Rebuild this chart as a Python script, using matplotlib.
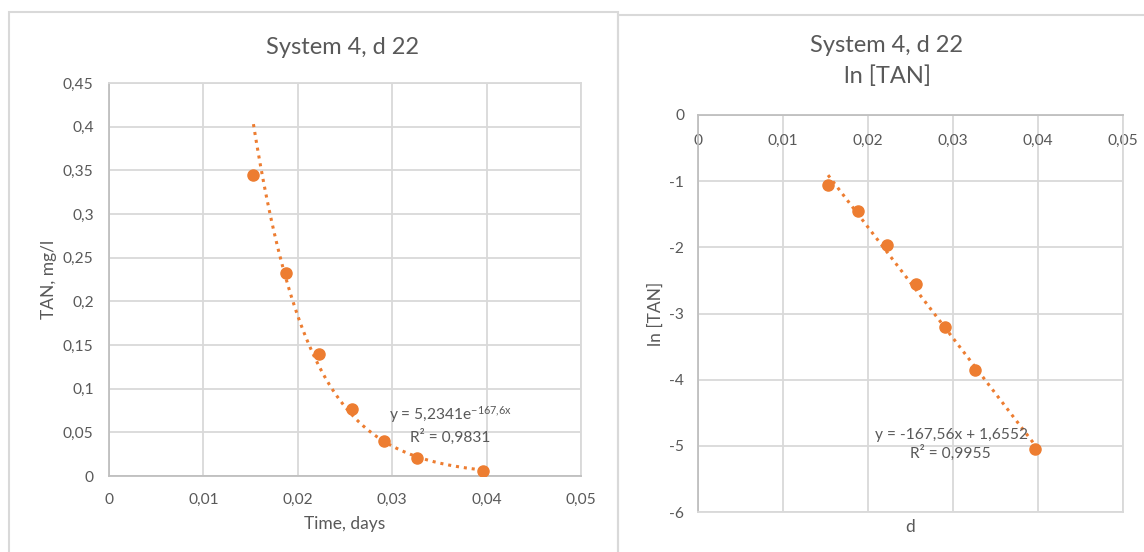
import matplotlib
matplotlib.use("Agg")
import matplotlib.pyplot as plt
from matplotlib.patches import Rectangle
import numpy as np

# values
days = [0.0153, 0.0188, 0.0222, 0.0257, 0.0291, 0.0326, 0.0396]
tan_mgl = [0.345, 0.233, 0.140, 0.077, 0.040, 0.021, 0.006]
ln_tan = [-1.06, -1.45, -1.96, -2.55, -3.20, -3.85, -5.05]

# trendline coefficients as printed on the charts
exp_a, exp_b = 5.2341, -167.6
lin_slope, lin_icpt = -167.56, 1.6552

x_ticks = [0, 0.01, 0.02, 0.03, 0.04, 0.05]
left_yticks = [0, 0.05, 0.1, 0.15, 0.2, 0.25, 0.3, 0.35, 0.4, 0.45]
right_yticks = [0, -1, -2, -3, -4, -5, -6]

orange = "#ED7D31"
txt = "#595959"
grid = "#d9d9d9"
axisc = "#bfbfbf"

plt.rcParams["font.family"] = ["Lato", "DejaVu Sans"]
plt.rcParams["mathtext.fontset"] = "custom"
plt.rcParams["mathtext.rm"] = "Lato"
plt.rcParams["mathtext.it"] = "Lato"

W, H = 1144, 552
fig = plt.figure(figsize=(W / 100, H / 100), dpi=100)


def fx(px):
    return px / W


def fy(py):
    return 1 - py / H


def comma(v):
    return ("%g" % v).replace(".", ",")


TICK = 11.2
LAB = 12.5
TITLE = 17
ANN = 11.2

# panel frames
fig.patches.append(Rectangle((fx(9), fy(560)), fx(618 - 9), fy(12) - fy(560),
                             transform=fig.transFigure, fill=False,
                             edgecolor=grid, linewidth=1.5))
fig.patches.append(Rectangle((fx(618), fy(560)), fx(1160 - 618), fy(15) - fy(560),
                             transform=fig.transFigure, fill=False,
                             edgecolor=grid, linewidth=1.5))

# ---- left chart: TAN vs time
ax = fig.add_axes([fx(109), fy(476), fx(581 - 109), fy(83) - fy(476)])
ax.set_xlim(0, 0.05)
ax.set_ylim(0, 0.45)
ax.set_xticks(x_ticks)
ax.set_yticks(left_yticks)
ax.set_xticklabels([comma(v) for v in x_ticks])
ax.set_yticklabels([comma(v) for v in left_yticks])
ax.grid(True, color=grid, linewidth=1.3)
ax.set_axisbelow(True)
for s in ax.spines.values():
    s.set_color(grid)
    s.set_linewidth(1.3)
ax.spines["left"].set_color(axisc)
ax.spines["bottom"].set_color(axisc)
ax.tick_params(length=0, colors=txt, labelsize=TICK)
ax.tick_params(axis="x", pad=12)
ax.tick_params(axis="y", pad=11)

xs = np.linspace(min(days), max(days), 200)
ax.plot(xs, exp_a * np.exp(exp_b * xs), color=orange, linestyle=(0, (1, 1.6)),
        linewidth=2.2, zorder=2)
ax.plot(days, tan_mgl, "o", color=orange, markersize=8, zorder=3)

ax.set_xlabel("Time, days", color=txt, fontsize=LAB, labelpad=7)
ax.set_ylabel("TAN, mg/l", color=txt, fontsize=LAB, labelpad=4)
fig.text(fx(343), fy(47), "System 4, d 22", ha="center", va="center",
         color=txt, fontsize=TITLE)

ax.text(0.0362, 0.0698, r"y = 5,2341e$^{\mathregular{-167{,}6x}}$", ha="center",
        va="center", color=txt, fontsize=ANN)
ax.text(0.0361, 0.0447, "R² = 0,9831", ha="center", va="center", color=txt,
        fontsize=ANN)

# ---- right chart: ln[TAN] vs d
bx = fig.add_axes([fx(698), fy(512), fx(1123 - 698), fy(115) - fy(512)])
bx.set_xlim(0, 0.05)
bx.set_ylim(-6, 0)
bx.set_xticks(x_ticks)
bx.set_yticks(right_yticks)
bx.set_xticklabels([comma(v) for v in x_ticks])
bx.set_yticklabels([comma(v) for v in right_yticks])
bx.grid(True, color=grid, linewidth=1.3)
bx.set_axisbelow(True)
for s in bx.spines.values():
    s.set_color(grid)
    s.set_linewidth(1.3)
bx.spines["left"].set_color(axisc)
bx.spines["top"].set_color(axisc)
bx.xaxis.set_ticks_position("top")
bx.xaxis.set_label_position("bottom")
bx.tick_params(length=0, colors=txt, labelsize=TICK)
bx.tick_params(axis="x", pad=-24)
bx.tick_params(axis="y", pad=10)

xl = np.array([min(days), max(days)])
bx.plot(xl, lin_slope * xl + lin_icpt, color=orange, linestyle=(0, (1, 1.6)),
        linewidth=2.2, zorder=2)
bx.plot(days, ln_tan, "o", color=orange, markersize=8, zorder=3)

bx.set_xlabel("d", color=txt, fontsize=LAB, labelpad=5)
bx.set_ylabel("ln [TAN]", color=txt, fontsize=LAB, labelpad=4)
fig.text(fx(887), fy(46), "System 4, d 22", ha="center", va="center",
         color=txt, fontsize=TITLE)
fig.text(fx(887), fy(76), "ln [TAN]", ha="center", va="center",
         color=txt, fontsize=TITLE)

bx.text(0.0298, -4.83, "y = -167,56x + 1,6552", ha="center", va="center",
        color=txt, fontsize=ANN)
bx.text(0.0297, -5.11, "R² = 0,9955", ha="center", va="center", color=txt,
        fontsize=ANN)

fig.savefig("out.png", dpi=100, facecolor="white")
